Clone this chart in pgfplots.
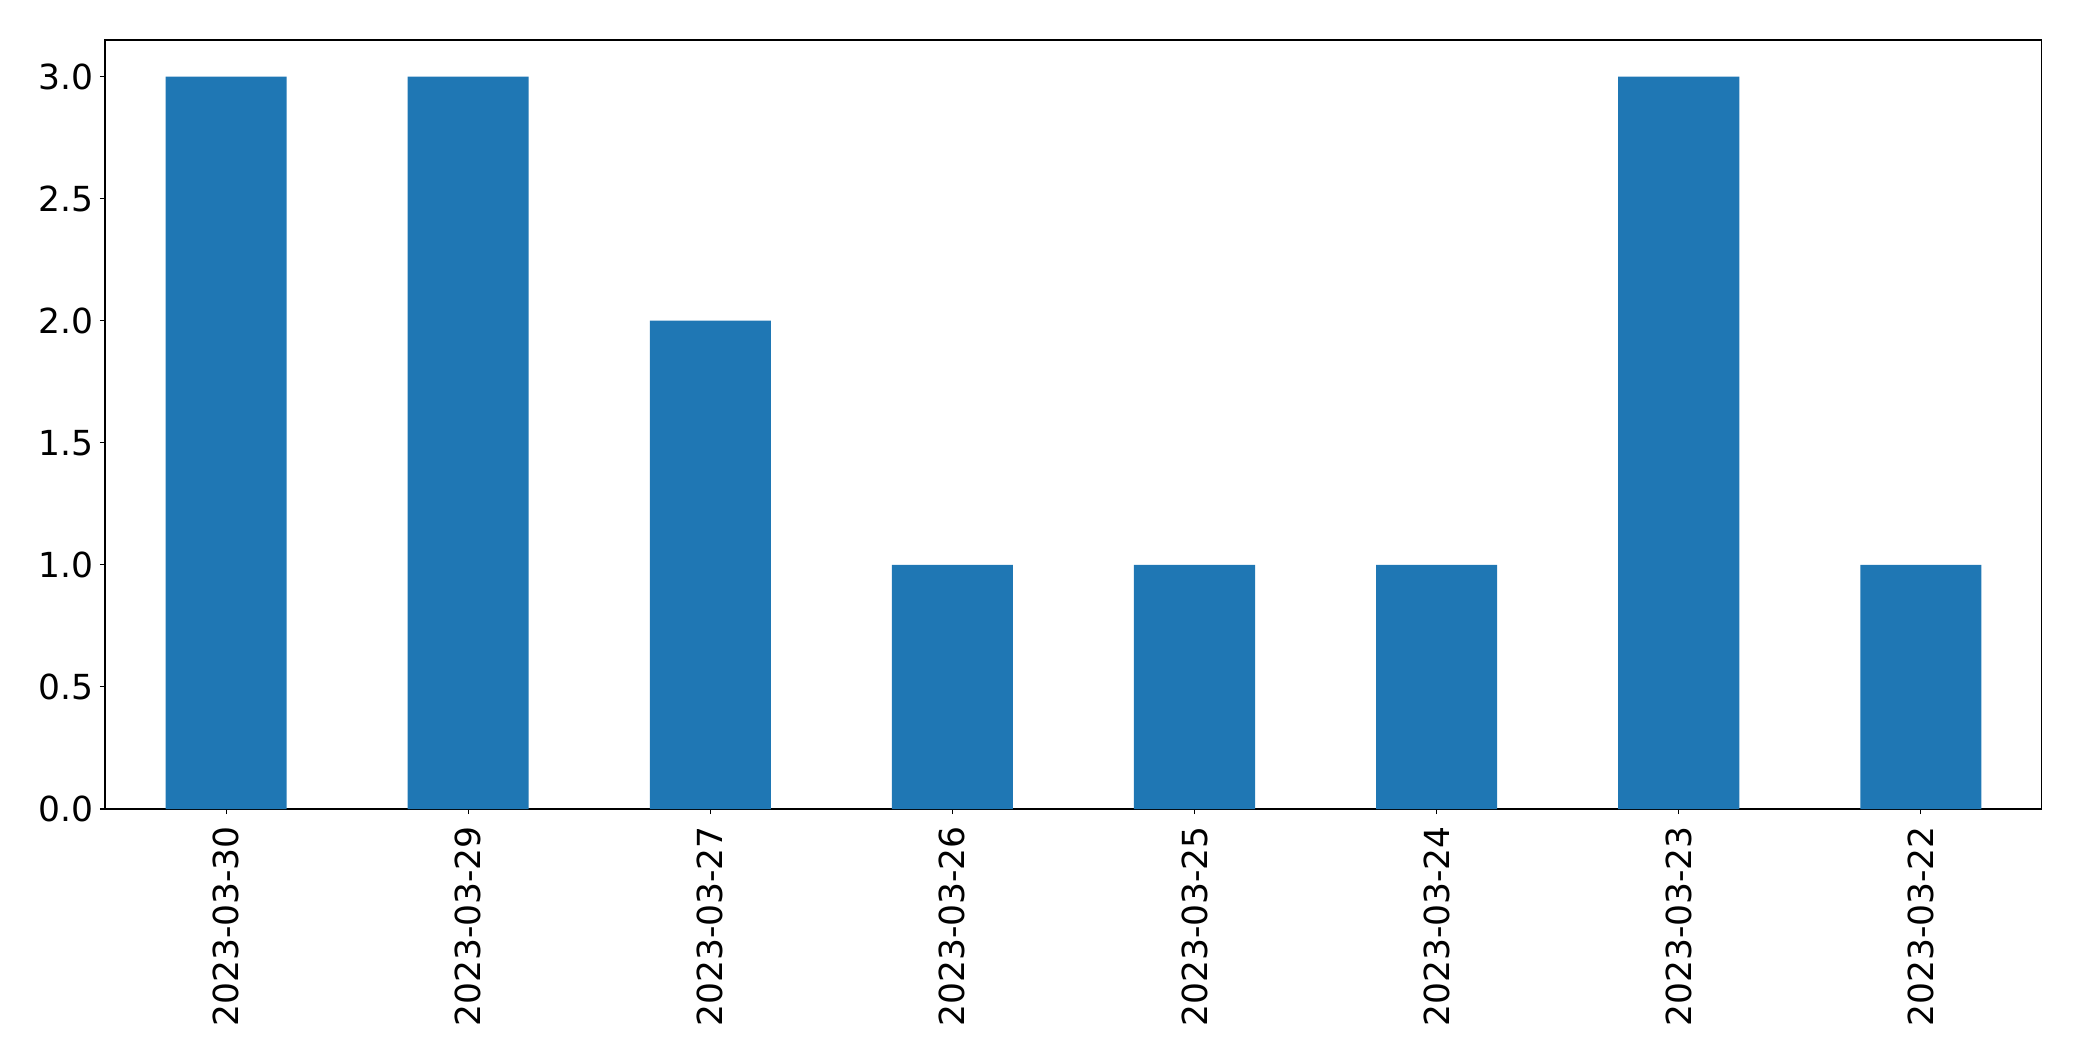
\documentclass[border=0pt]{standalone}
\usepackage{fontspec}
\setmainfont{DejaVu Sans}
\usepackage{pgfplots}
\pgfplotsset{compat=1.18}
\definecolor{mplblue}{HTML}{1F77B4}
\begin{document}
\begin{tikzpicture}
\path[use as bounding box] (-105pt,-252pt) rectangle (1977pt,809pt);
\begin{axis}[
  at={(0pt,0pt)}, anchor=south west,
  scale only axis,
  width=1937pt, height=769pt,
  xmin=-0.5, xmax=7.5,
  ymin=0, ymax=3.15,
  xtick={0,1,2,3,4,5,6,7},
  xticklabels={2023-03-30,2023-03-29,2023-03-27,2023-03-26,2023-03-25,2023-03-24,2023-03-23,2023-03-22},
  ytick={0,0.5,1,1.5,2,2.5,3},
  y tick label style={/pgf/number format/fixed, /pgf/number format/fixed zerofill, /pgf/number format/precision=1, inner sep=6pt},
  /pgf/number format/assume math mode=true,
  ticklabel style={font=\fontsize{34.5}{41}\selectfont},
  x tick label style={rotate=90, anchor=east, inner sep=12pt},
  tick align=outside,
  xtick pos=bottom, ytick pos=left,
  major tick length=5pt,
  every tick/.style={black, line width=1.1pt},
  axis line style={line width=1.1pt},
  ybar, bar width=0.5,
]
\addplot[fill=mplblue, draw=none] coordinates {(0,3) (1,3) (2,2) (3,1) (4,1) (5,1) (6,3) (7,1)};
\end{axis}
\end{tikzpicture}
\end{document}
